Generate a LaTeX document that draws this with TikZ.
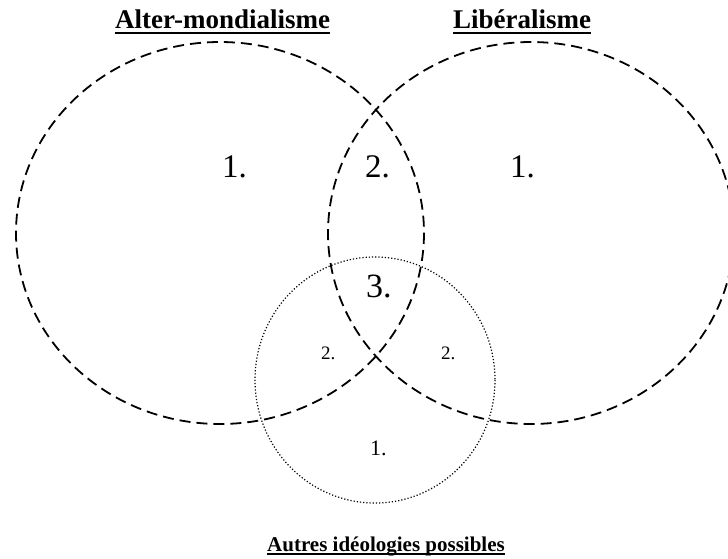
\documentclass[tikz,border=0pt]{standalone}
\usepackage{fontspec}
\setmainfont{Liberation Serif}
\begin{document}
\begin{tikzpicture}[x=1pt,y=-1pt,
  setline/.style={dash pattern=on 11pt off 6pt, line width=1.8pt},
  otherline/.style={dash pattern=on 1.2pt off 2pt, line width=1.2pt},
  title/.style={font=\bfseries\fontsize{27}{30}\selectfont, inner sep=0pt, anchor=base west},
  subtitle/.style={font=\bfseries\fontsize{21}{24}\selectfont, inner sep=0pt, anchor=base west},
  ulineA/.style={line width=2pt},
  ulineB/.style={line width=1.6pt},
  numlab/.style={inner sep=0pt, anchor=base west}]
\useasboundingbox (0,0) rectangle (728,558);
\clip (0,0) rectangle (728,558);
% sets
\draw[setline] (220,233) ellipse [x radius=204, y radius=191];
\draw[setline] (531,233) ellipse [x radius=203, y radius=191];
\draw[otherline] (375,380) ellipse [x radius=120, y radius=123];
% titles
\node[title] (t1) at (115,28) {Alter-mondialisme};
\node[title] (t2) at (453,28) {Libéralisme};
\node[subtitle] (t3) at (267,551) {Autres idéologies possibles};
\draw[ulineA] ([yshift=-5pt]t1.base west) -- ([yshift=-5pt]t1.base east);
\draw[ulineA] ([yshift=-5pt]t2.base west) -- ([yshift=-5pt]t2.base east);
\draw[ulineB] ([yshift=-3pt]t3.base west) -- ([yshift=-3pt]t3.base east);
% region labels
\node[numlab, font=\fontsize{33}{36}\selectfont] (a1) at (222,177) {1.};
\node[numlab, font=\fontsize{33}{36}\selectfont] (ab) at (365,177) {2.};
\node[numlab, font=\fontsize{33}{36}\selectfont] (b1) at (510,177) {1.};
\node[numlab, font=\fontsize{34}{36}\selectfont] (abc) at (366,297) {3.};
\node[numlab, font=\fontsize{19}{22}\selectfont] (ac) at (321,359) {2.};
\node[numlab, font=\fontsize{19}{22}\selectfont] (bc) at (441,359) {2.};
\node[numlab, font=\fontsize{22}{26}\selectfont] (c1) at (370,455) {1.};
\end{tikzpicture}
\end{document}
